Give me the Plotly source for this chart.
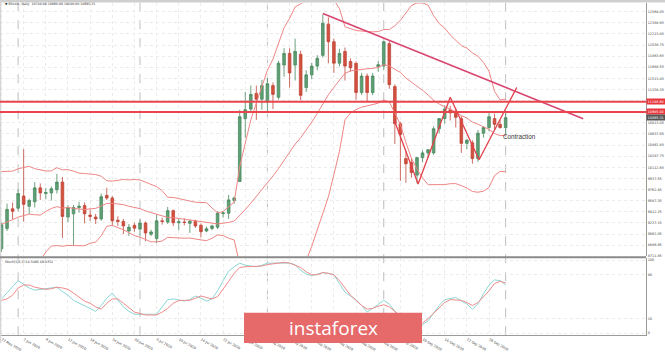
import numpy as np
import pandas as pd
import plotly.graph_objects as go

W, H = 665, 352

# ---------------- data ----------------
dates = pd.bdate_range("2020-05-27", "2020-10-01")  # weekday bars, 92

open_ = [8830, 9150, 9460, 9470, 9660, 9500, 9570, 9790, 9700, 9710,
         9760, 9880, 9330, 9380, 9480, 9510, 9360, 9330, 9300, 9670,
         9630, 9280, 9260, 9110, 9200, 9140, 9235, 9060, 8990, 9270,
         9250, 9430, 9240, 9250, 9230, 9265, 9200, 9110, 9150, 9170,
         9385, 9390, 9590, 9890, 10880, 11030, 11277, 11185, 11140, 11400,
         11216, 11723, 11907, 11723, 11892, 11369, 11569, 11707, 11876, 12368,
         12091, 11753, 11938, 11780, 11750, 11290, 11550, 11290, 11700, 11707,
         12060, 11385, 10800, 10250, 10190, 9990, 10265, 10340, 10340, 10720,
         10880, 11020, 10980, 10880, 10490, 10500, 10250, 10650, 10740, 10880,
         10790, 10740]
high = [9240, 9540, 9560, 9770, 10400, 9620, 9880, 9860, 9790, 9810,
        10010, 9960, 9520, 9520, 9570, 9560, 9450, 9380, 9700, 9790,
        9660, 9340, 9300, 9220, 9240, 9290, 9260, 9130, 9370, 9320,
        9490, 9450, 9300, 9310, 9290, 9290, 9230, 9180, 9210, 9420,
        9420, 9680, 9650, 11020, 11300, 11400, 11400, 11490, 11520, 11450,
        11790, 11990, 11990, 12140, 11950, 11640, 11760, 11880, 12520, 12475,
        12140, 11980, 12000, 11830, 11780, 11600, 11590, 11600, 11790, 12100,
        12100, 11420, 10830, 10370, 10260, 10280, 10380, 10400, 10760, 10880,
        11090, 11080, 11050, 10920, 10560, 10540, 10700, 10760, 10985, 10960,
        10860, 10980]
low = [8780, 9110, 9290, 9420, 9260, 9380, 9480, 9600, 9610, 9590,
       9700, 9000, 9250, 8890, 9400, 9230, 9270, 9220, 9270, 9600,
       9190, 9190, 9060, 9030, 9100, 9030, 8950, 9030, 8920, 9210,
       9220, 9190, 9120, 9200, 9080, 9160, 9010, 9090, 9120, 9140,
       9320, 9300, 9540, 9880, 10580, 10990, 10860, 11020, 10990, 11030,
       11180, 11540, 11370, 11480, 11170, 11300, 11500, 11640, 11840, 11750,
       11600, 11700, 11480, 11620, 11180, 11250, 11150, 11250, 11620, 11640,
       11350, 10480, 9900, 9870, 9950, 9860, 10190, 10260, 10310, 10650,
       10800, 10850, 10740, 10340, 10400, 10170, 10200, 10580, 10680, 10700,
       10720, 10640]
close = [9210, 9450, 9420, 9700, 9530, 9590, 9790, 9710, 9715, 9775,
         9880, 9340, 9480, 9480, 9500, 9380, 9340, 9300, 9650, 9630,
         9270, 9260, 9190, 9170, 9155, 9235, 9080, 9095, 9270, 9260,
         9430, 9240, 9255, 9245, 9265, 9190, 9100, 9145, 9190, 9390,
         9395, 9600, 9630, 10910, 11020, 11262, 11185, 11400, 11430, 11262,
         11753, 11907, 11600, 11938, 11246, 11569, 11707, 11830, 12383, 12091,
         11753, 11907, 11707, 11680, 11290, 11550, 11290, 11550, 11730, 12090,
         11415, 10800, 10630, 10170, 10030, 10265, 10340, 10390, 10720, 10880,
         11030, 10970, 10900, 10490, 10540, 10250, 10650, 10740, 10910, 10790,
         10740, 10895.31]
# closes of the 19 bars before the first visible bar (Bollinger warm-up)
prior_closes = [8620, 8830, 8890, 9030, 9150, 9990, 9810, 8600, 8810, 9310,
                9790, 9320, 9730, 9780, 9510, 9060, 9170, 8900, 8840]

stoch_main = [47, 55, 64, 72, 67, 62, 59, 60, 61, 63,
              63, 57, 52, 45, 41, 37, 34, 30, 38, 48,
              55, 45, 36, 30, 26, 26, 26, 25, 26, 36,
              46, 47, 45, 44, 46, 51, 48, 44, 47, 58,
              72, 85, 91, 96, 93, 92, 91, 93, 96, 96,
              96, 97, 96, 94, 86, 81, 79, 81, 83, 82,
              80, 68, 56, 51, 46, 38, 29, 34, 40, 45,
              40, 30, 18, 10, 7, 9, 12, 17, 27, 38,
              46, 48, 49, 44, 40, 33, 40, 54, 66, 73,
              72, 66.5486]
stoch_signal = [45, 47, 52, 62, 66, 66, 63, 61, 60, 61,
                63, 62, 60, 55, 49, 44, 41, 36, 33, 41,
                47, 47, 41, 35, 29, 27, 25, 25, 25, 29,
                34, 41, 45, 45, 45, 48, 51, 49, 47, 50,
                60, 71, 82, 90, 91, 91, 91, 92, 94, 95,
                96, 97, 96, 93, 90, 84, 80, 80, 83, 82,
                80, 72, 62, 52, 45, 38, 33, 34, 37, 39,
                36, 30, 25, 18, 12, 11, 14, 20, 27, 35,
                42, 46, 46, 45, 42, 38, 42, 50, 58, 68,
                71, 69.0352]

date_tick_labels = ["27 May 2020", "2 Jun 2020", "8 Jun 2020", "12 Jun 2020", "18 Jun 2020",
                    "24 Jun 2020", "30 Jun 2020", "6 Jul 2020", "10 Jul 2020", "16 Jul 2020",
                    "22 Jul 2020", "28 Jul 2020", "3 Aug 2020", "7 Aug 2020", "13 Aug 2020",
                    "19 Aug 2020", "25 Aug 2020", "31 Aug 2020", "4 Sep 2020", "10 Sep 2020",
                    "16 Sep 2020", "22 Sep 2020", "28 Sep 2020"]
price_ticks = [8711.85, 8886.95, 9062.05, 9237.15, 9412.25, 9587.35, 9762.45, 9937.55,
               10112.65, 10287.75, 10462.85, 10637.95, 10813.05, 10988.15, 11163.25,
               11338.35, 11513.45, 11688.55, 11863.65, 12038.75, 12213.85, 12388.95, 12564.05]
stoch_ticks = [0, 20, 80, 100]

resistance_levels = [11146.60, 10985.00]
trend_bar = [58.0, 105.0]
trend_price = [12536, 10878]
zigzag_bar = [71.0, 75.2, 81.0, 86.2, 93.0]
zigzag_price = [10832, 9849, 11216, 10233, 11369]
contraction_label = ("Contraction", 90.2, 10601)

# ---------------- geometry (pixels) ----------------
PLOT_R = 646
PRICE_TOP, PRICE_BOT = 3, 263
ST_TOP, ST_BOT = 265, 344
px_per_bar = 5.54
bar0_px = 1.5

def py(p):  # pixel y -> paper
    return 1 - p / H

n = len(close)
idx = np.arange(n)
x_range = [(0 - bar0_px) / px_per_bar, (PLOT_R - bar0_px) / px_per_bar]
tickvals = list(range(0, 4 * len(date_tick_labels), 4))

# Bollinger bands (20, 2)
s = pd.Series(prior_closes + close, dtype=float)
mid = s.rolling(20).mean().to_numpy()[-n:]
sd = s.rolling(20).std(ddof=0).to_numpy()[-n:]
upper = mid + 2 * sd
lower = mid - 2 * sd

month_starts = [i for i in range(1, n) if dates[i].month != dates[i - 1].month]

fig = go.Figure()
fig.add_trace(go.Candlestick(
    x=idx, open=open_, high=high, low=low, close=close,
    increasing=dict(line=dict(color="#4a8a5f", width=0.8), fillcolor="#5f9f75"),
    decreasing=dict(line=dict(color="#bf4638", width=0.8), fillcolor="#d4503f"),
    xaxis="x", yaxis="y", showlegend=False, hoverinfo="skip"))
for band in (upper, mid, lower):
    fig.add_trace(go.Scatter(x=idx, y=band, mode="lines", xaxis="x", yaxis="y",
                             line=dict(color="#ef8585", width=1), showlegend=False,
                             hoverinfo="skip"))
fig.add_trace(go.Scatter(x=trend_bar, y=trend_price, mode="lines", xaxis="x", yaxis="y",
                         line=dict(color="#d8466f", width=1.6), showlegend=False))
fig.add_trace(go.Scatter(x=zigzag_bar, y=zigzag_price, mode="lines", xaxis="x", yaxis="y",
                         line=dict(color="#e2404a", width=1.3), showlegend=False))
fig.add_trace(go.Scatter(x=idx, y=stoch_main, mode="lines", xaxis="x2", yaxis="y2",
                         line=dict(color="#8ad6d4", width=1), showlegend=False))
fig.add_trace(go.Scatter(x=idx, y=stoch_signal, mode="lines", xaxis="x2", yaxis="y2",
                         line=dict(color="#f08a8a", width=1), showlegend=False))

tick_font = dict(family="DejaVu Sans", size=3.4, color="#444")
grid = dict(showgrid=True, gridcolor="#ebebeb", griddash="dot", gridwidth=1, zeroline=False)
dom_x = [0, PLOT_R / W]

shapes = []
shapes.append(dict(type="rect", xref="paper", yref="paper", x0=0, x1=1, y0=py(2.5), y1=1,
                   fillcolor="#cfcfcf", line=dict(width=0), layer="above"))
shapes.append(dict(type="rect", xref="paper", yref="paper", x0=0, x1=1.2 / W, y0=0, y1=1,
                   fillcolor="#d5d5d5", line=dict(width=0), layer="above"))
for m in month_starts:
    shapes.append(dict(type="line", xref="x", yref="paper", x0=m, x1=m,
                       y0=py(ST_BOT), y1=py(PRICE_TOP),
                       line=dict(color="#bdbdbd", width=1, dash="dash"), layer="below"))
shapes.append(dict(type="line", xref="paper", yref="paper", x0=0, x1=PLOT_R / W,
                   y0=py(264), y1=py(264), line=dict(color="#8a8a8a", width=2)))
for lvl in resistance_levels:
    shapes.append(dict(type="line", xref="paper", yref="y", x0=0, x1=PLOT_R / W,
                       y0=lvl, y1=lvl, line=dict(color="#e8464c", width=2)))
shapes.append(dict(type="rect", xref="paper", yref="paper", x0=244 / W, x1=422 / W,
                   y0=0, y1=py(321), fillcolor="#e66a6a", line=dict(width=0), layer="above"))

annotations = []
for lvl in resistance_levels:
    annotations.append(dict(x=PLOT_R / W, xref="paper", xanchor="left", y=lvl, yref="y",
                            text=f"{lvl:.2f}", showarrow=False, bgcolor="#e8363c",
                            font=dict(family="DejaVu Sans", size=3.4, color="white"),
                            width=19, align="left", borderpad=0.6))
annotations.append(dict(x=PLOT_R / W, xref="paper", xanchor="left", y=close[-1], yref="y",
                        text=f"{close[-1]:.2f}", showarrow=False, bgcolor="#555555",
                        font=dict(family="DejaVu Sans", size=3.4, color="white"),
                        width=19, align="left", borderpad=0.6))
annotations.append(dict(x=3 / W, xref="paper", xanchor="left", y=py(4.5), yref="paper",
                        yanchor="middle", showarrow=False,
                        text=f"▼ Bitcoin, Daily  {open_[-1]:.2f} {high[-1]:.2f} {low[-1]:.2f} {close[-1]:.2f}",
                        font=dict(family="DejaVu Sans", size=3.2, color="#333")))
annotations.append(dict(x=3 / W, xref="paper", xanchor="left", y=py(268.5), yref="paper",
                        yanchor="middle", showarrow=False,
                        text=f"Stoch(5,3,3) {stoch_main[-1]:.4f} {stoch_signal[-1]:.4f}",
                        font=dict(family="DejaVu Sans", size=3.2, color="#333")))
annotations.append(dict(x=contraction_label[1], y=contraction_label[2], xref="x", yref="y",
                        xanchor="left", yanchor="middle", showarrow=False,
                        text=contraction_label[0],
                        font=dict(family="Liberation Sans", size=6.3, color="#333")))
annotations.append(dict(x=333 / W, y=py(337), xref="paper", yref="paper",
                        xanchor="center", yanchor="middle", showarrow=False,
                        text="instaforex",
                        font=dict(family="Open Sans", size=19, color="white")))

fig.update_layout(
    width=W, height=H, margin=dict(l=0, r=0, t=0, b=0),
    paper_bgcolor="white", plot_bgcolor="white", showlegend=False,
    boxgap=0.32,
    xaxis=dict(domain=dom_x, range=x_range, anchor="y", tickvals=tickvals,
               showticklabels=False, ticks="", rangeslider=dict(visible=False), **grid),
    xaxis2=dict(domain=dom_x, range=x_range, anchor="y2", matches="x", tickvals=tickvals,
                ticktext=date_tick_labels, ticklabelposition="outside right",
                tickfont=tick_font, ticks="", showline=True, linecolor="#9a9a9a",
                linewidth=1, **grid),
    yaxis=dict(domain=[py(PRICE_BOT), py(PRICE_TOP)],
               range=[price_ticks[0], price_ticks[0] + (PRICE_BOT - PRICE_TOP) * 15.347],
               side="right", anchor="x", tickvals=price_ticks,
               ticktext=[f"{v:.2f}" for v in price_ticks], tickfont=tick_font, ticks="",
               showline=True, linecolor="#9a9a9a", linewidth=1, **grid),
    yaxis2=dict(domain=[py(ST_BOT), py(ST_TOP)], range=[-2.67, 102.67], side="right",
                anchor="x2", tickvals=stoch_ticks, ticktext=[str(v) for v in stoch_ticks],
                tickfont=tick_font, ticks="", showline=True, linecolor="#9a9a9a",
                linewidth=1, **grid),
    shapes=shapes, annotations=annotations,
)

fig.write_html("out.html")
